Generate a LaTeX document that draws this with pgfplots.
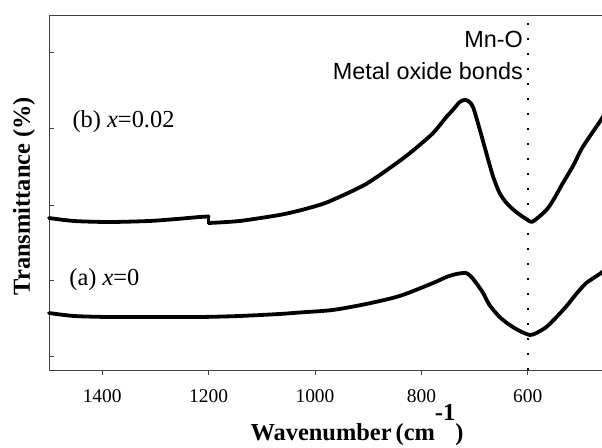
\documentclass[border=0pt]{standalone}
\usepackage{fontspec}
\setmainfont{Liberation Serif}
\newfontfamily\arial{Liberation Sans}
\usepackage{pgfplots}
\pgfplotsset{compat=1.18}
\begin{document}
\begin{tikzpicture}
\begin{axis}[
  scale only axis,
  width=557bp, height=355bp,
  x dir=reverse,
  xmin=453, xmax=1500,
  ymin=0, ymax=355,
  axis line style={black!75, line width=0.9bp},
  xtick={600,800,1000,1200,1400},
  ytick={14,90,165,242,318},
  yticklabels={},
  xtick pos=bottom, ytick pos=left,
  tick align=inside,
  major tick length=5bp,
  tick style={black!75, line width=0.9bp},
  xtick style={yshift=-5bp},
  /pgf/number format/assume math mode=true,
  /pgf/number format/set thousands separator={},
  xticklabel style={font=\fontsize{19.5}{22}\selectfont, anchor=base, yshift=-32bp},
  xlabel={\textbf{Wavenumber\,(cm\raisebox{0.8em}{-1})}},
  ylabel={\textbf{Transmittance (\%)}},
  label style={font=\fontsize{24.5}{28}\selectfont},
  xlabel style={at={(rel axis cs:0.553,0)}, anchor=base, yshift=-70bp, inner sep=0pt},
  ylabel style={at={(rel axis cs:0,0.49)}, anchor=center, yshift=25bp, inner sep=0pt},
  clip=false,
  every axis plot/.append style={line cap=round, line join=round},
]
% (b) x=0.02
\addplot[black, line width=3.8bp, smooth, tension=0.45] coordinates {
(1500,152) (1453,149) (1387,148) (1312,149) (1260,151) (1217,153) (1200,153.5)
};
\addplot[black, line width=3.8bp] coordinates {(1200,153.5) (1200,147)};
\addplot[black, line width=3.8bp, smooth, tension=0.45] coordinates {
(1200,147) (1142,149) (1067,155) (1029,159.5) (992,165) (967,170) (904,186)
(841,209) (810,222) (778,237) (753,253) (741,260) (728,268) (719,270) (712,269)
(703,263) (690,240) (678,217) (665,193) (653,177) (640,167) (622,158) (603,151)
(593,148) (584,151) (565,160) (552,170) (534,187) (515,204) (499,221) (483,234)
(465,248) (453,258)
};
% (a) x=0
\addplot[black, line width=3.8bp, smooth, tension=0.45] coordinates {
(1500,57) (1453,54) (1387,53) (1312,53) (1217,53) (1142,54) (1067,56)
(1029,57.5) (967,60) (904,66) (841,74) (778,87) (753,93) (734,96) (716,97)
(706,93) (697,87) (684,77) (672,65) (653,53) (634,45) (615,39) (596,35)
(584,37) (565,43) (546,53) (527,64) (509,76) (490,87) (465,96) (453,101)
};
\addplot[black, line width=1.6bp, dash pattern=on 1.6bp off 13.4bp, line cap=butt] coordinates {(600,0) (600,355)};
\node[anchor=base west, inner sep=0pt, font=\fontsize{24.5}{28}\selectfont] at (axis cs:1456,242) {(b) \textit{x}=0.02};
\node[anchor=base west, inner sep=0pt, font=\fontsize{24.5}{28}\selectfont] at (axis cs:1462,85) {(a) \textit{x}=0};
\node[anchor=base east, inner sep=0pt, font=\arial\fontsize{23.5}{28}\selectfont] at (axis cs:609,322) {Mn-O};
\node[anchor=base east, inner sep=0pt, font=\arial\fontsize{23.5}{28}\selectfont] at (axis cs:609,290) {Metal oxide bonds};
\end{axis}
\pgfresetboundingbox
\path (current axis.south west) ++(-49bp,-78bp) rectangle ++(602bp,448bp);
\end{tikzpicture}
\end{document}
